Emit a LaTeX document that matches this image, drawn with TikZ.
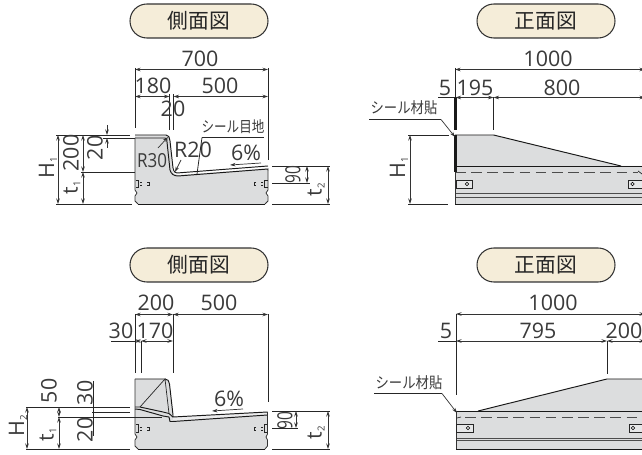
\documentclass[tikz,border=0pt]{standalone}
\usepackage{fontspec}
\setmainfont{Open Sans}
\newfontfamily\jpfont{Noto Sans CJK JP}
\usetikzlibrary{arrows.meta,positioning}
\definecolor{pillcream}{HTML}{F5EDD9}
\definecolor{concrete}{HTML}{DCDDDE}
\definecolor{inktext}{HTML}{3A3A3A}
\newcommand{\subidx}[1]{\raisebox{-0.25ex}{\fontsize{5.5}{6}\selectfont #1}}

\begin{document}
\begin{tikzpicture}[
    x=0.02cm, y=-0.02cm,
    pill/.style={draw=black!80, line width=0.6pt, rounded corners=9.6pt, minimum width=2.76cm, minimum height=0.68cm, fill=pillcream, font=\jpfont\fontsize{11.8}{12}\selectfont, text=black!85, inner sep=0pt},
    dimtext/.style={font=\fontsize{12.2}{13}\selectfont, text=inktext, inner sep=0pt},
    rottext/.style={dimtext, rotate=90},
    jptext/.style={font=\jpfont\fontsize{7.6}{8}\selectfont, text=inktext, inner sep=0pt, yscale=1.15},
    dimline/.style={{Stealth[length=1.1mm, width=0.7mm]}-{Stealth[length=1.1mm, width=0.7mm]}, line width=0.4pt, black!80},
    tipline/.style={-{Stealth[length=1.1mm, width=0.7mm]}, line width=0.4pt, black!80},
    extline/.style={line width=0.45pt, black!85},
    outline/.style={line width=0.55pt, black!90},
    edgeline/.style={line width=0.45pt, black!80},
    markline/.style={line width=0.4pt, black!85},
    body/.style={fill=concrete, draw=none}
]
\useasboundingbox (0,0) rectangle (642,455);

% === TOP LEFT: side view ===
\node[pill] (sideA) at (199,21) {側面図};

% Concrete body
\path[body] (135,135) -- (166,135) .. controls (169,135) and (169,137) .. (170,141) -- (172,168) .. controls (173,174) and (175,175) .. (178,175) -- (268,168.5) -- (268,190) -- (266,193) -- (268,196) -- (268,201) -- (265,204) -- (138,204) -- (135,201) -- (135,196) -- (137,193) -- (135,190) -- cycle;
\draw[outline] (135,135) -- (166,135) .. controls (169,135) and (169,137) .. (170,141) -- (173,168) .. controls (174,172) and (175,173) .. (177,173) -- (268,166);
\draw[outline] (135,138) -- (165,138) .. controls (167,138) and (167,140) .. (167,142) -- (170,170) .. controls (171,174) and (174,176) .. (178,176) -- (268,169) -- (268,171);
\draw[outline] (138,204) -- (265,204);
\draw[edgeline] (135,138) -- (135,190) -- (137,193) -- (135,196) -- (135,201) -- (138,204);
\draw[edgeline] (268,171) -- (268,190) -- (266,193) -- (268,196) -- (268,201) -- (265,204);

% Dowel marks
\draw[markline] (135.5,180) -- (138.5,180) -- (138.5,187) -- (135.5,187);
\draw[markline] (267.5,180) -- (264.5,180) -- (264.5,187) -- (267.5,187);
\draw[markline] (140,182) -- (142,182) (140,185) -- (142,185) (147,182) -- (149,182) -- (149,185) -- (147,185);
\draw[markline] (263,182) -- (261,182) (263,185) -- (261,185) (256,182) -- (254,182) -- (254,185) -- (256,185);

% Dimensions above
\node[dimtext] (dimA700) at (200,59) {700};
\draw[dimline] (135,69.5) -- (268,69.5);
\node[dimtext] (dimA180) at (153,86) {180};
\node[dimtext] (dimA500) at (220,86) {500};
\draw[dimline] (135,96.5) -- (169.5,96.5);
\draw[dimline] (173.5,96.5) -- (268,96.5);
\draw[extline] (135,68) -- (135,128);
\draw[extline] (268,68) -- (268,160);
\draw[extline] (169.5,94) -- (169.5,130);
\draw[extline] (173.5,94) -- (173.5,130);
\node[dimtext] (dimA20) at (173,109) {20};

% Labels on the profile
\node[dimtext, font=\fontsize{11}{12}\selectfont, xscale=0.88] (radA30) at (152,161) {R30};
\node[dimtext] (radA20) at (193,150) {R20};
\draw[tipline] (158,148) -- (168,137);
\draw[tipline] (181,160) -- (175,172);
\node[jptext, xscale=0.94] (sealA) at (233,127) {シール目地};
\draw[extline] (202,137.5) -- (264,137.5);
\draw[extline] (202,137.5) -- (197,174);
\node[dimtext] (slopeA) at (246,153) {6\%};
\draw[tipline] (261,163) -- (230,165);

% Dimensions left
\draw[extline] (56,135) -- (130,135);
\draw[extline] (56,204) -- (132,204);
\draw[extline] (81,172) -- (135,172);
\draw[extline] (103,138) -- (135,138);
\draw[dimline] (58,135) -- (58,204);
\draw[dimline] (83,135) -- (83,172);
\draw[dimline] (83,172) -- (83,204);
\draw[tipline] (107,125) -- (107,135);
\draw[tipline] (107,148) -- (107,138);
\node[rottext] (heightA) at (48,168) {H\subidx{1}};
\node[rottext] (dimA200) at (71,153) {200};
\node[rottext] (thickA) at (72,188) {t\subidx{1}};
\node[rottext] (dimA20s) at (95,148) {20};

% Dimensions right
\draw[extline] (272,166) -- (330,166);
\draw[extline] (272,183) -- (310,183);
\draw[extline] (272,204) -- (330,204);
\draw[dimline] (307,166) -- (307,183);
\draw[dimline] (328,166) -- (328,204);
\node[rottext, font=\fontsize{8.8}{9}\selectfont, yscale=1.35] (dimA90) at (293,175) {90};
\node[rottext] (thickB) at (316,190) {t\subidx{2}};

% === TOP RIGHT: front view ===
\node[pill] (frontA) at (546,21) {正面図};

\path[body] (455,135) -- (493.5,135) -- (621,166) -- (642,166) -- (642,204) -- (455,204) -- cycle;
\draw[outline] (455,135) -- (493.5,135) -- (621,166);
\draw[outline] (455,166) -- (642,166);
\draw[outline] (455,204) -- (642,204);
\draw[outline, dashed, dash pattern=on 6pt off 3.2pt, black!70] (455,172) -- (638,172);
\draw[markline] (638,171) -- (642,174);
\draw[line width=0.35pt, black!70] (455,193) -- (642,193) (455,197) -- (642,197);
\draw[edgeline] (455,172) -- (455,204);
\draw[line width=1.3pt, black!90] (455.5,97) -- (455.5,130) (455.5,135) -- (455.5,172);

% Plates
\draw[markline, fill=concrete!70] (456,180) rectangle (472,188);
\draw[markline, fill=concrete!70] (642,180) -- (628,180) -- (628,188) -- (642,188);
\draw[line width=0.35pt] (467,184) circle (1pt);
\draw[line width=0.35pt] (632.5,184) circle (1pt);

% Dimensions
\node[dimtext] (dimB1000) at (548,59) {1000};
\draw[dimline] (455,69.5) -- (645,69.5);
\node[dimtext] (dimB5) at (445,88) {5};
\node[dimtext] (dimB195) at (475,88) {195};
\node[dimtext] (dimB800) at (562,88) {800};
\draw[extline] (438,97.5) -- (455,97.5);
\draw[dimline] (455.5,97.5) -- (493.5,97.5);
\draw[dimline] (493.5,97.5) -- (645,97.5);
\draw[extline] (455,68) -- (455,97);
\draw[extline] (493.5,97) -- (493.5,130);
\node[jptext] (sealB) at (404,108) {シール材貼};
\draw[extline] (369,119.5) -- (441,119.5);
\draw[tipline] (441,119.5) -- (455,137);
\draw[extline] (408,135) -- (449,135);
\draw[extline] (408,204) -- (448,204);
\draw[dimline] (410,135) -- (410,204);
\node[rottext] (heightB) at (399,168) {H\subidx{1}};

% === BOTTOM LEFT: side view ===
\node[pill] (sideB) at (199,265) {側面図};

\path[body] (135,379) -- (165,379) .. controls (168,379) and (169,381) .. (169.5,384) -- (173,415) -- (173,417) -- (267.5,412) -- (267.5,434) -- (266,437) -- (267.5,440) -- (267.5,446) -- (265,449) -- (138,449) -- (135,446) -- (135,440) -- (137,437) -- (135,434) -- cycle;
\path[fill=concrete!55] (173,417) -- (267.5,412) -- (267.5,415) -- (173,421.5) -- cycle;
\draw[outline] (135,379) -- (165,379) .. controls (168,379) and (169,381) .. (169.5,384) -- (173,415) -- (173,417) -- (267.5,412);
\draw[outline] (135,407) -- (140,407) -- (163,412) -- (169,413.5) -- (173,417);
\draw[outline] (135,409) -- (140,409.5) -- (163,416) -- (169,417) -- (170,421.5) -- (173,421.5) -- (267.5,415);
\draw[markline] (140,407) -- (165,379) -- (169,413.5);
\draw[outline] (138,449) -- (265,449);
\draw[edgeline] (135,379) -- (135,434) -- (137,437) -- (135,440) -- (135,446) -- (138,449);
\draw[edgeline] (267.5,412) -- (267.5,434) -- (266,437) -- (267.5,440) -- (267.5,446) -- (265,449);

% Dowel marks
\draw[markline] (135.5,424) -- (138.5,424) -- (138.5,432) -- (135.5,432);
\draw[markline] (267,424) -- (264.5,424) -- (264.5,432) -- (267,432);
\draw[markline] (139.5,427) -- (141.5,427) (139.5,430) -- (141.5,430) (147,427) -- (149,427) -- (149,430) -- (147,430);
\draw[markline] (263,427) -- (261,427) (263,430) -- (261,430) (256,427) -- (254,427) -- (254,430) -- (256,430);

% Dimensions above
\node[dimtext] (dimC200) at (156,303) {200};
\node[dimtext] (dimC500) at (219,303) {500};
\draw[dimline] (135,314.5) -- (173,314.5);
\draw[dimline] (173,314.5) -- (268,314.5);
\node[dimtext] (dimC30) at (121,331) {30};
\node[dimtext] (dimC170) at (155,331) {170};
\draw[extline] (111,341) -- (135,341);
\draw[dimline] (135,341) -- (141,341);
\draw[dimline] (141,341) -- (173,341);
\draw[extline] (135,314) -- (135,373);
\draw[extline] (141,341) -- (141,373);
\draw[extline] (173,314) -- (173,373);
\draw[extline] (268,314) -- (268,402);
\node[dimtext] (slopeC) at (229,399) {6\%};
\draw[tipline] (243,409) -- (212,411);

% Dimensions left
\draw[extline] (26,407) -- (130,407);
\draw[extline] (92,412.5) -- (130,412.5);
\draw[extline] (58,417) -- (162,417);
\draw[extline] (26,449) -- (130,449);
\draw[extline] (93,381) -- (93,436);
\draw[dimline] (27,407) -- (27,449);
\draw[dimline] (59,407) -- (59,417);
\draw[dimline] (59,417) -- (59,449);
\node[rottext] (heightC) at (18,426) {H\subidx{2}};
\node[rottext] (thickC) at (48,435) {t\subidx{1}};
\node[rottext] (dimC50) at (49,391) {50};
\node[rottext] (dimC30s) at (85,393) {30};
\node[rottext] (dimC20s) at (85,430) {20};

% Dimensions right
\draw[extline] (272,411) -- (330,411);
\draw[extline] (272,428) -- (298,428);
\draw[extline] (272,449) -- (330,449);
\draw[dimline] (296,411) -- (296,428);
\draw[dimline] (328,411) -- (328,449);
\node[rottext, font=\fontsize{8.8}{9}\selectfont, yscale=1.35] (dimC90) at (285,421) {90};
\node[rottext] (thickD) at (316,433) {t\subidx{2}};

% === BOTTOM RIGHT: front view ===
\node[pill] (frontB) at (546,265) {正面図};

\path[body] (478,411) -- (607,379) -- (642,379) -- (642,449) -- (456,449) -- (456,411) -- cycle;
\draw[outline] (478,411) -- (607,379) -- (642,379);
\draw[outline] (456,411) -- (642,411);
\draw[outline] (456,449) -- (642,449);
\draw[markline] (457,418) -- (461,417);
\draw[outline, dashed, dash pattern=on 6pt off 3.2pt, black!70] (465,417) -- (642,417);
\draw[line width=0.35pt, black!70] (456,438) -- (642,438) (456,440.5) -- (642,440.5);
\draw[edgeline] (456,411) -- (456,449);

% Plates
\draw[markline, fill=concrete!70] (456,424) rectangle (473,432);
\draw[markline, fill=concrete!70] (642,424) -- (629,424) -- (629,432) -- (642,432);
\draw[line width=0.35pt] (468,428) circle (1pt);
\draw[line width=0.35pt] (633,428) circle (1pt);

% Dimensions
\node[dimtext] (dimD1000) at (553,303) {1000};
\draw[dimline] (456,314) -- (645,314);
\node[dimtext] (dimD5) at (446,331) {5};
\node[dimtext] (dimD795) at (538,331) {795};
\node[dimtext] (dimD200) at (624,331) {200};
\draw[extline] (438,341) -- (456,341);
\draw[dimline] (456,341) -- (607,341);
\draw[dimline] (607,341) -- (645,341);
\draw[extline] (456,314) -- (456,395);
\draw[extline] (607,341) -- (607,374);
\node[jptext] (sealD) at (409,383) {シール材貼};
\draw[extline] (374,393.5) -- (442,393.5);
\draw[tipline] (442,393.5) -- (457,413);

\end{tikzpicture}
\end{document}
